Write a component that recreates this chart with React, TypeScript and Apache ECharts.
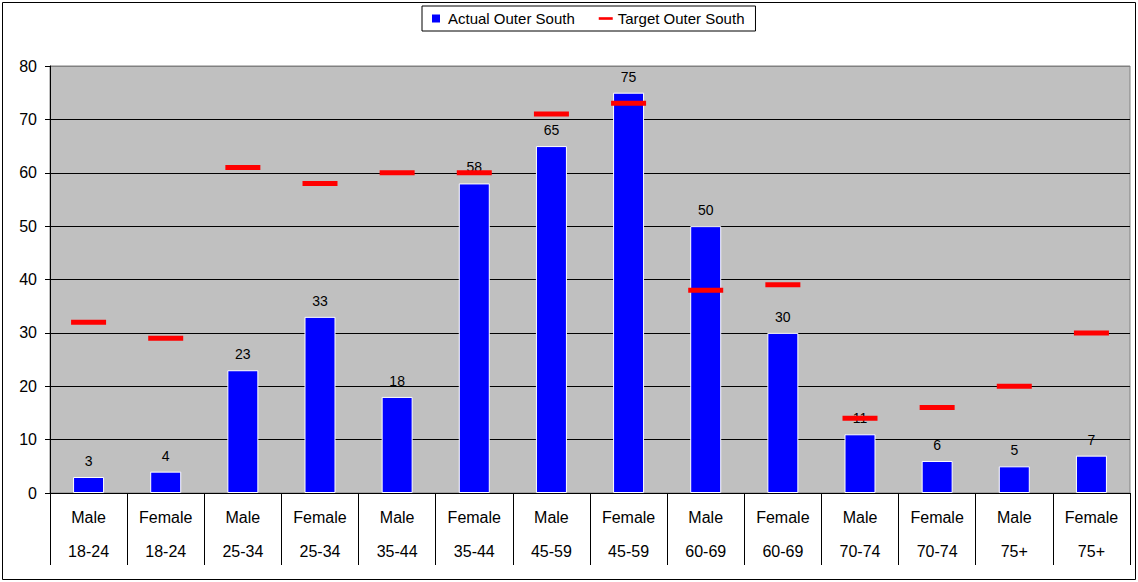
import React, { useEffect, useRef } from "react";
import * as echarts from "echarts";

const genders = ["Male", "Female", "Male", "Female", "Male", "Female", "Male", "Female", "Male", "Female", "Male", "Female", "Male", "Female"];
const ageGroups = ["18-24", "18-24", "25-34", "25-34", "35-44", "35-44", "45-59", "45-59", "60-69", "60-69", "70-74", "70-74", "75+", "75+"];
const actualValues = [3, 4, 23, 33, 18, 58, 65, 75, 50, 30, 11, 6, 5, 7];
const targetValues = [32, 29, 61, 58, 60, 60, 71, 73, 38, 39, 14, 16, 20, 30];
const yTicks = { min: 0, max: 80, interval: 10 };

const FONT = "'Liberation Sans', Arial, sans-serif";

export default function App() {
  const ref = useRef<HTMLDivElement>(null);

  useEffect(() => {
    document.body.style.margin = "0";
    if (!ref.current) return;
    const chart = echarts.init(ref.current, null, { renderer: "svg" });
    const categories = genders.map((g, i) => g + "\n" + ageGroups[i]);
    chart.setOption({
      animation: false,
      backgroundColor: "#ffffff",
      textStyle: { fontFamily: FONT, color: "#000" },
      graphic: [
        {
          type: "rect",
          shape: { x: 2.5, y: 2.5, width: 1133, height: 577 },
          style: { fill: "none", stroke: "#000", lineWidth: 1 },
          silent: true,
        },
      ],
      legend: {
        left: 422,
        top: 6,
        padding: [5, 11, 5, 10],
        itemGap: 24,
        itemWidth: 14,
        itemHeight: 8,
        borderColor: "#000",
        borderWidth: 1,
        backgroundColor: "#fff",
        textStyle: { fontFamily: FONT, fontSize: 15, color: "#000" },
        data: [
          { name: "Actual Outer South", icon: "path://M0,0h8v8h-8z", itemStyle: { color: "#0000ff", borderWidth: 0 } },
          { name: "Target Outer South", icon: "path://M0,0h16v3h-16z", itemStyle: { color: "#ff0000" } },
        ],
      },
      grid: {
        left: 50,
        right: 8,
        top: 66,
        bottom: 89,
        show: true,
        backgroundColor: "#c0c0c0",
        borderColor: "#808080",
        borderWidth: 1,
      },
      xAxis: {
        type: "category",
        data: categories,
        boundaryGap: true,
        axisLine: { show: true, lineStyle: { color: "#000", width: 1 } },
        axisTick: { show: true, interval: 0, length: 72, lineStyle: { color: "#000" } },
        axisLabel: {
          interval: 0,
          margin: 7,
          fontFamily: FONT,
          fontSize: 16,
          color: "#000",
          lineHeight: 34,
        },
      },
      yAxis: {
        type: "value",
        min: yTicks.min,
        max: yTicks.max,
        interval: yTicks.interval,
        axisLine: { show: true, lineStyle: { color: "#000" } },
        axisTick: { show: true, length: 5, lineStyle: { color: "#000" } },
        axisLabel: { margin: 13, fontFamily: FONT, fontSize: 16, color: "#000" },
        splitLine: {
          show: true,
          lineStyle: {
            color: ["#000", "#000", "#000", "#000", "#000", "#000", "#000", "#000", "#808080"],
            width: 1,
          },
        },
      },
      series: [
        {
          name: "Actual Outer South",
          type: "bar",
          data: actualValues,
          barWidth: 31,
          itemStyle: { color: "#0000ff", borderColor: "#ffffff", borderWidth: 1 },
          label: {
            show: true,
            position: "top",
            distance: 9,
            fontFamily: FONT,
            fontSize: 14,
            color: "#000",
          },
          z: 2,
        },
        {
          name: "Target Outer South",
          type: "scatter",
          data: targetValues,
          symbol: "rect",
          symbolSize: [35, 5],
          itemStyle: { color: "#ff0000", opacity: 1 },
          z: 3,
        },
      ],
    });
    return () => chart.dispose();
  }, []);

  return <div ref={ref} style={{ width: 1138, height: 582 }} />;
}
